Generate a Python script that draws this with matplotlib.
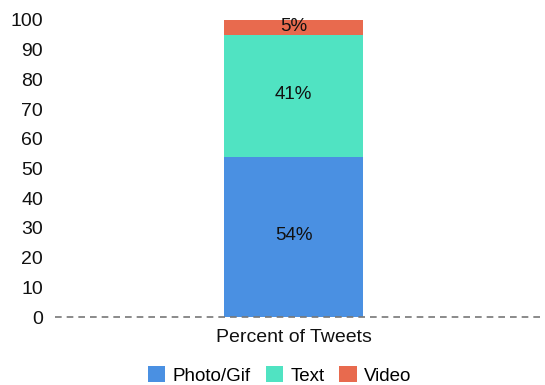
import matplotlib.pyplot as plt
from matplotlib.patches import Patch

plt.rcParams['font.family'] = ['Liberation Sans', 'DejaVu Sans']

categories = ["Percent of Tweets"]
series_names = ["Photo/Gif", "Text", "Video"]
series_values = [[54], [41], [5]]
colors = ["#4A90E2", "#50E3C2", "#E86A4E"]
y_ticks = [0, 10, 20, 30, 40, 50, 60, 70, 80, 90, 100]

fig = plt.figure(figsize=(5.45, 3.85), dpi=100)
ax = fig.add_axes([55 / 545, 68 / 385, 490 / 545, 297 / 385])

x = list(range(len(categories)))
bottom = [0] * len(categories)
for name, vals, col in zip(series_names, series_values, colors):
    bars = ax.bar(x, vals, width=0.284, bottom=bottom, color=col, label=name)
    for b, v, b0 in zip(bars, vals, bottom):
        ax.annotate(f"{v}%", (b.get_x() + b.get_width() / 2, b0 + v / 2),
                    xytext=(0, 1), textcoords="offset points",
                    ha="center", va="center", fontsize=13.5, color="#111111")
    bottom = [b0 + v for b0, v in zip(bottom, vals)]

ax.set_xlim(-0.4867, 0.5133)
ax.set_ylim(0, 100)
ax.set_yticks(y_ticks)
ax.set_xticks(x)
ax.set_xticklabels(categories)
ax.tick_params(axis="both", length=0, labelsize=14, colors="#111111")
ax.tick_params(axis="y", pad=8.6)
ax.tick_params(axis="x", pad=9)
for s in ax.spines.values():
    s.set_visible(False)
ax.axhline(0, color="#777777", linestyle=(0, (4, 3)), linewidth=1.2, clip_on=False)

handles = [Patch(facecolor=c, label=n) for n, c in zip(series_names, colors)]
fig.legend(handles=handles, loc="center", bbox_to_anchor=(0.513, 0.025),
           ncol=3, frameon=False, fontsize=13.5, handlelength=0.95,
           handleheight=0.95, handletextpad=0.37, columnspacing=0.8)

fig.savefig("out.png", dpi=100)
